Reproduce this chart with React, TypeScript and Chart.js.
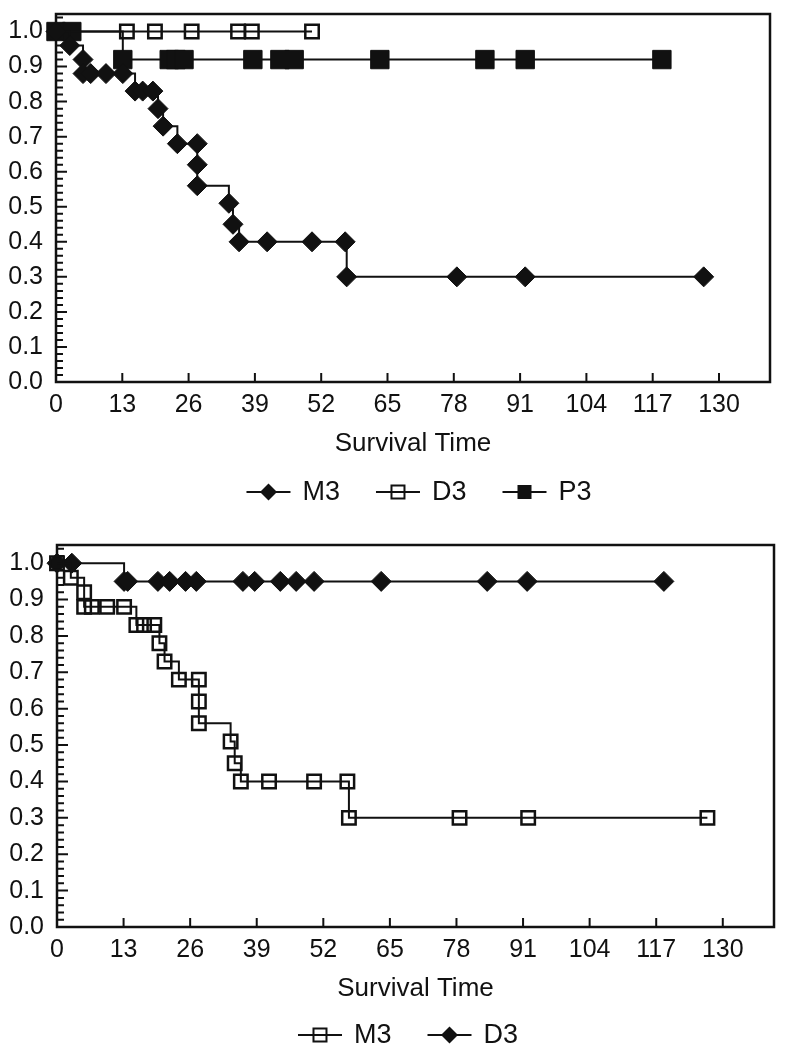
import React, { useEffect, useRef } from 'react';
import { Chart, registerables } from 'chart.js';

Chart.register(...registerables);

// ---------- axis ticks ----------
const xTickValues = [0, 13, 26, 39, 52, 65, 78, 91, 104, 117, 130];
const yTickValues = [0, 0.1, 0.2, 0.3, 0.4, 0.5, 0.6, 0.7, 0.8, 0.9, 1.0];
const xAxisTitle = 'Survival Time';

// ---------- data (Kaplan-Meier points) ----------
const m3Times = [0, 2.7, 5.3, 5.3, 6.8, 9.8, 13.1, 15.5, 17.0, 19.0, 20.0, 21.0, 23.8, 27.7, 27.7, 27.7, 33.9, 34.7, 35.9, 41.4, 50.2, 56.7, 57.0, 78.6, 92.0, 127.0];
const m3Surv = [1.0, 0.96, 0.92, 0.88, 0.88, 0.88, 0.88, 0.83, 0.83, 0.83, 0.78, 0.73, 0.68, 0.68, 0.62, 0.56, 0.51, 0.45, 0.40, 0.40, 0.40, 0.40, 0.30, 0.30, 0.30, 0.30];

const d3TopTimes = [0, 13.9, 19.4, 26.6, 35.7, 38.4, 50.2];
const d3TopSurv = [1.0, 1.0, 1.0, 1.0, 1.0, 1.0, 1.0];

const p3TopTimes = [0, 3.1, 13.1, 22.2, 23.5, 25.1, 38.6, 43.9, 46.7, 63.5, 84.1, 92.0, 118.8];
const p3TopSurv = [1.0, 1.0, 0.92, 0.92, 0.92, 0.92, 0.92, 0.92, 0.92, 0.92, 0.92, 0.92, 0.92];

const d3BottomTimes = [0, 2.9, 13.1, 13.8, 19.7, 22.0, 25.1, 27.2, 36.3, 38.6, 43.6, 46.7, 50.2, 63.3, 84.0, 91.8, 118.5];
const d3BottomSurv = [1.0, 1.0, 0.95, 0.95, 0.95, 0.95, 0.95, 0.95, 0.95, 0.95, 0.95, 0.95, 0.95, 0.95, 0.95, 0.95, 0.95];

// ---------- styles ----------
const FONT = "'Liberation Sans', Arial, Helvetica, sans-serif";
const INK = '#111111';

type Marker = 'diamond' | 'openSquare' | 'filledSquare';

const markerStyles: Record<Marker, any> = {
  diamond: { pointStyle: 'rectRot', pointRadius: 10, pointBackgroundColor: INK, pointBorderWidth: 1 },
  openSquare: { pointStyle: 'rect', pointRadius: 9.5, pointBackgroundColor: 'rgba(0,0,0,0)', pointBorderWidth: 2.5 },
  filledSquare: { pointStyle: 'rect', pointRadius: 13, pointBackgroundColor: INK, pointBorderWidth: 1 },
};

type Series = { label: string; times: number[]; surv: number[]; marker: Marker };

const topSeries: Series[] = [
  { label: 'M3', times: m3Times, surv: m3Surv, marker: 'diamond' },
  { label: 'D3', times: d3TopTimes, surv: d3TopSurv, marker: 'openSquare' },
  { label: 'P3', times: p3TopTimes, surv: p3TopSurv, marker: 'filledSquare' },
];

const bottomSeries: Series[] = [
  { label: 'M3', times: m3Times, surv: m3Surv, marker: 'openSquare' },
  { label: 'D3', times: d3BottomTimes, surv: d3BottomSurv, marker: 'diamond' },
];

// ---------- plugins ----------
const framePlugin = {
  id: 'kmFrame',
  beforeDatasetsDraw(chart: any) {
    const { ctx, chartArea: a, scales } = chart;
    ctx.save();
    ctx.strokeStyle = INK;
    ctx.lineWidth = 2.5;
    ctx.strokeRect(a.left, a.top, a.right - a.left, a.bottom - a.top);
    ctx.lineWidth = 2;
    ctx.beginPath();
    for (const v of xTickValues) {
      if (v === 0) continue;
      const px = scales.x.getPixelForValue(v);
      ctx.moveTo(px, a.bottom);
      ctx.lineTo(px, a.bottom - 9);
    }
    const minorStep = 0.02;
    for (let k = 1; k * minorStep < 1.05; k++) {
      const v = k * minorStep;
      const py = scales.y.getPixelForValue(v);
      const major = k % 5 === 0;
      ctx.moveTo(a.left, py);
      ctx.lineTo(a.left + (major ? 11 : 7), py);
    }
    ctx.stroke();
    ctx.restore();
  },
};

function drawLegendSymbol(ctx: CanvasRenderingContext2D, marker: Marker, cx: number, cy: number) {
  ctx.save();
  ctx.strokeStyle = INK;
  ctx.fillStyle = INK;
  ctx.lineWidth = 2;
  ctx.beginPath();
  ctx.moveTo(cx - 22, cy);
  ctx.lineTo(cx + 22, cy);
  ctx.stroke();
  if (marker === 'diamond') {
    ctx.beginPath();
    ctx.moveTo(cx, cy - 8.5);
    ctx.lineTo(cx + 8.5, cy);
    ctx.lineTo(cx, cy + 8.5);
    ctx.lineTo(cx - 8.5, cy);
    ctx.closePath();
    ctx.fill();
  } else if (marker === 'openSquare') {
    ctx.lineWidth = 2;
    ctx.strokeRect(cx - 6.5, cy - 6.5, 13, 13);
  } else {
    ctx.fillRect(cx - 7, cy - 7, 14, 14);
  }
  ctx.restore();
}

const legendPlugin = {
  id: 'kmLegend',
  afterDraw(chart: any, _args: any, opts: any) {
    const { ctx, chartArea } = chart;
    const items = chart.data.datasets.map((ds: any) => ({ text: ds.label, marker: ds.marker as Marker }));
    ctx.save();
    ctx.font = `${opts.fontSize}px ${FONT}`;
    const symW = 44;
    const gap1 = 12;
    const gap2 = 36;
    const widths = items.map((it: any) => symW + gap1 + ctx.measureText(it.text).width);
    const total = widths.reduce((a: number, b: number) => a + b, 0) + gap2 * (items.length - 1);
    let x = (chartArea.left + chartArea.right) / 2 + opts.dx - total / 2;
    const y = chartArea.bottom + opts.dy;
    items.forEach((it: any, i: number) => {
      drawLegendSymbol(ctx, it.marker, x + symW / 2, y);
      ctx.fillStyle = INK;
      ctx.textAlign = 'left';
      ctx.textBaseline = 'middle';
      ctx.fillText(it.text, x + symW + gap1, y + 1);
      x += widths[i] + gap2;
    });
    ctx.restore();
  },
};

// ---------- panel ----------
type PanelProps = {
  series: Series[];
  height: number;
  pad: { left: number; top: number; right: number; bottom: number };
  yAxisWidth: number;
  legendDx: number;
  legendDy: number;
};

function KMPanel({ series, height, pad, yAxisWidth, legendDx, legendDy }: PanelProps) {
  const ref = useRef<HTMLCanvasElement>(null);

  useEffect(() => {
    const datasets = series.map((s) => ({
      label: s.label,
      marker: s.marker,
      data: s.times.map((t, i) => ({ x: t, y: s.surv[i] })),
      stepped: 'before',
      borderColor: INK,
      borderWidth: 2,
      fill: false,
      clip: false,
      pointBorderColor: INK,
      ...markerStyles[s.marker],
      pointHoverRadius: markerStyles[s.marker].pointRadius,
    }));

    const tickFont = { family: FONT, size: 25 };

    const chart = new Chart(ref.current as HTMLCanvasElement, {
      type: 'line',
      data: { datasets: datasets as any },
      options: {
        animation: false,
        responsive: false,
        maintainAspectRatio: false,
        events: [],
        layout: { padding: pad },
        scales: {
          x: {
            type: 'linear',
            min: 0,
            max: 140,
            afterBuildTicks: (s: any) => {
              s.ticks = xTickValues.map((v) => ({ value: v }));
            },
            afterFit: (s: any) => {
              s.paddingLeft = 0;
              s.paddingRight = 0;
            },
            grid: { display: false, drawTicks: false },
            border: { display: false },
            ticks: {
              color: INK,
              font: tickFont,
              padding: 8,
              maxRotation: 0,
              autoSkip: false,
              callback: (v: any) => String(v),
            },
            title: {
              display: true,
              text: xAxisTitle,
              color: INK,
              font: { family: FONT, size: 26 },
              padding: { top: 0, bottom: 16 },
            },
          },
          y: {
            type: 'linear',
            min: 0,
            max: 1.05,
            afterBuildTicks: (s: any) => {
              s.ticks = yTickValues.map((v) => ({ value: v }));
            },
            afterFit: (s: any) => {
              s.width = yAxisWidth;
              s.paddingTop = 0;
              s.paddingBottom = 0;
            },
            grid: { display: false, drawTicks: false },
            border: { display: false },
            ticks: {
              color: INK,
              font: tickFont,
              padding: 13,
              callback: (v: any) => Number(v).toFixed(1),
            },
          },
        } as any,
        plugins: {
          legend: { display: false },
          tooltip: { enabled: false },
          kmLegend: { fontSize: 27, dx: legendDx, dy: legendDy },
        } as any,
      },
      plugins: [framePlugin, legendPlugin],
    });

    return () => chart.destroy();
  }, []);

  return <canvas ref={ref} width={786} height={height} style={{ display: 'block', width: 786, height }} />;
}

export default function App() {
  return (
    <div style={{ position: 'absolute', left: 0, top: 0, width: 786, height: 1050, overflow: 'hidden', background: '#ffffff' }}>
      <KMPanel
        series={topSeries}
        height={520}
        pad={{ left: 0, top: 5, right: 16, bottom: 44.8 }}
        yAxisWidth={56}
        legendDx={6}
        legendDy={110}
      />
      <KMPanel
        series={bottomSeries}
        height={530}
        pad={{ left: 0, top: 25, right: 6, bottom: 29.8 }}
        yAxisWidth={57}
        legendDx={-7.5}
        legendDy={108}
      />
    </div>
  );
}
